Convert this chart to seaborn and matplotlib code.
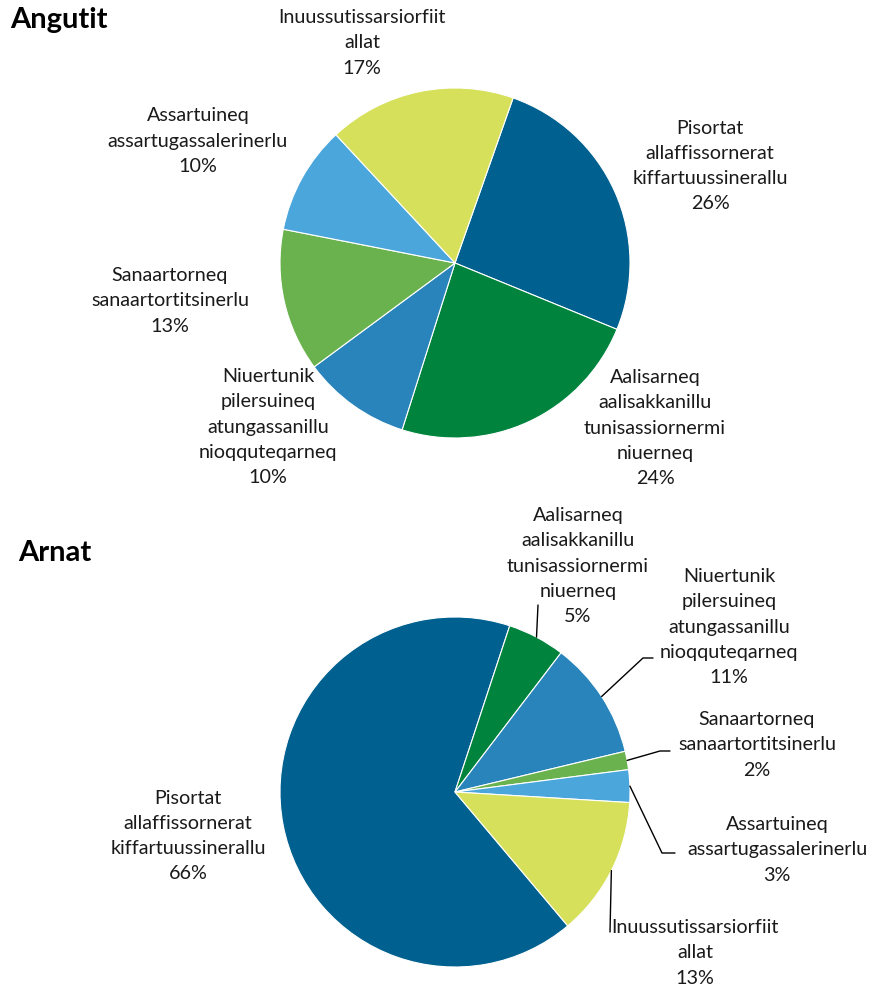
import numpy as np
import matplotlib
matplotlib.use("Agg")
import matplotlib.pyplot as plt
import seaborn as sns

# Data: share of employees by sector (percent), same sector order for both charts
categories = [
    "Pisortat\nallaffissornerat\nkiffartuussinerallu",
    "Aalisarneq\naalisakkanillu\ntunisassiornermi\nniuerneq",
    "Niuertunik\npilersuineq\natungassanillu\nnioqquteqarneq",
    "Sanaartorneq\nsanaartortitsinerlu",
    "Assartuineq\nassartugassalerinerlu",
    "Inuussutissarsiorfiit\nallat",
]
angutit = [25.8, 23.7, 10.0, 13.2, 10.0, 17.3]
arnat = [66.2, 5.3, 10.9, 1.7, 3.0, 12.9]
titles = ["Angutit", "Arnat"]

colors = ["#00608F", "#00843D", "#2884BA", "#6AB24E", "#4BA6DC", "#D6E05A"]

# Layout (pixel coords, measured from top-left)
W, H = 882, 989
centers = [(455, 263), (455, 792)]
radius = 175
start_angles = [70.6, -49.9]
title_pos = [(10, 20), (18, 553)]
label_pos = [
    [(710, 166), (655, 428), (268, 427), (170, 301), (198, 141), (362, 43)],
    [(188, 836), (578, 566), (729, 627), (757, 745), (777, 850), (695, 953)],
]
# leader lines for the second chart: list of points after the wedge edge
leaders = [
    [None, None, None, None, None, None],
    [None, [(538, 605)], [(643, 658), (653, 658)], [(660, 751), (670, 751)],
     [(662, 853), (675, 853)], [(610, 932)]],
]

sns.set_theme(style="white")
plt.rcParams["font.family"] = ["Lato", "DejaVu Sans"]

fig = plt.figure(figsize=(W / 100, H / 100), dpi=100)
ax = fig.add_axes([0, 0, 1, 1])

for k, vals in enumerate([angutit, arnat]):
    cx, cy = centers[k]
    wedges, _ = ax.pie(vals, colors=colors, startangle=start_angles[k],
                       counterclock=False, center=(cx, H - cy), radius=radius,
                       wedgeprops=dict(edgecolor="white", linewidth=0.8))
    for i, w in enumerate(wedges):
        lx, ly = label_pos[k][i]
        ax.text(lx, H - ly, f"{categories[i]}\n{round(vals[i])}%",
                ha="center", va="center", fontsize=14.2, linespacing=1.58,
                color="#1a1a1a")
        if leaders[k][i]:
            mid = np.deg2rad((w.theta1 + w.theta2) / 2)
            xs = [cx + radius * np.cos(mid)] + [p[0] for p in leaders[k][i]]
            ys = [H - cy + radius * np.sin(mid)] + [H - p[1] for p in leaders[k][i]]
            ax.plot(xs, ys, color="black", linewidth=1)
    tx, ty = title_pos[k]
    ax.text(tx, H - ty, titles[k], ha="left", va="center", fontsize=21,
            fontweight="bold", color="black")

ax.set_xlim(0, W)
ax.set_ylim(0, H)
ax.set_aspect("equal")
ax.axis("off")

fig.savefig("out.png", dpi=100)
